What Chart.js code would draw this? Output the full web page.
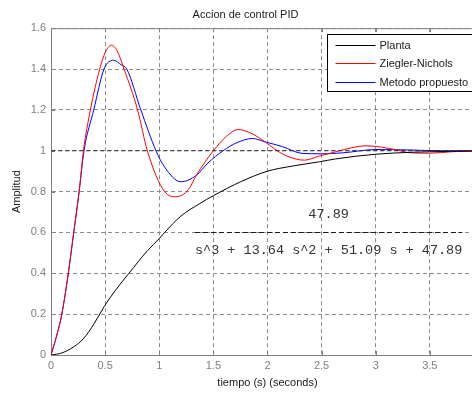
<!DOCTYPE html>
<html><head><meta charset="utf-8">
<script src="https://cdn.jsdelivr.net/npm/chart.js@4/dist/chart.umd.min.js"></script>
<style>
html,body{margin:0;padding:0;overflow:hidden;background:#fff;width:472px;height:394px}
#wrap{position:absolute;left:0;top:0;width:491px;height:394px}
</style>
</head><body><div id="wrap"><canvas id="c"></canvas></div>
<script>
// ---- data ----
const seriesNames = ['Planta', 'Ziegler-Nichols', 'Metodo propuesto'];

const plantaT = [0, 0.1, 0.21, 0.3, 0.4, 0.49, 0.6, 0.72, 0.89, 1.0, 1.05, 1.2, 1.37, 1.5, 1.76, 2.0, 2.23, 2.48, 2.63, 3.0, 3.35, 3.7, 4.0];
const plantaV = [0, 0.01, 0.04, 0.08, 0.155, 0.236, 0.32, 0.40, 0.51, 0.57, 0.60, 0.68, 0.74, 0.78, 0.85, 0.90, 0.925, 0.946, 0.96, 0.983, 0.993, 0.997, 0.999];

const znT = [0, 0.05, 0.1, 0.16, 0.21, 0.26, 0.30, 0.364, 0.45, 0.50, 0.557, 0.61, 0.675, 0.80, 0.89, 1.05, 1.157, 1.27, 1.343, 1.5, 1.62, 1.73, 1.85, 1.98, 2.09, 2.2, 2.34, 2.48, 2.63, 2.78, 2.91, 3.05, 3.2, 3.32, 3.5, 3.7, 4.0];
const znV = [0, 0.09, 0.2, 0.4, 0.6, 0.8, 1.0, 1.2, 1.4, 1.48, 1.517, 1.49, 1.4, 1.2, 1.0, 0.8, 0.775, 0.81, 0.88, 1.0, 1.07, 1.104, 1.085, 1.043, 1.0, 0.97, 0.954, 0.974, 0.995, 1.015, 1.024, 1.018, 1.003, 0.99, 0.988, 0.995, 1.002];

const propT = [0, 0.05, 0.1, 0.16, 0.21, 0.26, 0.305, 0.395, 0.49, 0.58, 0.65, 0.70, 0.83, 0.97, 1.05, 1.20, 1.343, 1.45, 1.59, 1.72, 1.86, 1.98, 2.14, 2.32, 2.5, 2.7, 3.0, 3.3, 3.6, 4.0];
const propV = [0, 0.09, 0.2, 0.4, 0.6, 0.8, 1.0, 1.2, 1.4, 1.443, 1.42, 1.4, 1.2, 1.0, 0.92, 0.848, 0.88, 0.94, 1.0, 1.04, 1.06, 1.043, 1.02, 0.987, 0.985, 0.99, 1.006, 1.004, 1.0, 1.0];

const refT = [0, 4];
const refV = [1, 1];

const xTicks = [0, 0.5, 1, 1.5, 2, 2.5, 3, 3.5, 4];
const yTicks = [0, 0.2, 0.4, 0.6, 0.8, 1, 1.2, 1.4, 1.6];

const tfNum = '47.89';
const tfDen = 's^3 + 13.64 s^2 + 51.09 s + 47.89';
const tfPos = {x: 2.565, yNum: 0.69, yBar: 0.6, yDen: 0.51};

// ---- chart ----
const pts = (t, v) => t.map((x, i) => ({x, y: v[i]}));
const FONT = "'Liberation Sans', Arial, sans-serif";
const colors = ['#000000', '#ff0000', '#0000ff'];
const fmt = v => String(Math.round(v * 10) / 10);

const extras = {
  id: 'extras',
  beforeDatasetsDraw(chart) {
    const {ctx, chartArea: a, scales: {x, y}} = chart;
    ctx.save();
    ctx.strokeStyle = '#808080';
    ctx.lineWidth = 1;
    ctx.beginPath();
    ctx.moveTo(a.left, a.top + 0.5); ctx.lineTo(a.right, a.top + 0.5);
    xTicks.forEach(v => {
      const px = Math.round(x.getPixelForValue(v)) + 0.5;
      ctx.moveTo(px, a.bottom); ctx.lineTo(px, a.bottom - 4);
      ctx.moveTo(px, a.top); ctx.lineTo(px, a.top + 4);
    });
    yTicks.forEach(v => {
      const py = Math.round(y.getPixelForValue(v)) + 0.5;
      ctx.moveTo(a.left, py); ctx.lineTo(a.left + 4, py);
    });
    ctx.stroke();
    ctx.restore();
  },
  afterDatasetsDraw(chart) {
    const {ctx, chartArea: a, scales: {x, y}} = chart;
    ctx.save();
    // transfer function text
    ctx.font = "13.5px 'Liberation Mono', 'Courier New', monospace";
    ctx.fillStyle = '#333';
    ctx.textAlign = 'center';
    ctx.textBaseline = 'middle';
    const cx = x.getPixelForValue(tfPos.x);
    ctx.fillText(tfNum, cx, y.getPixelForValue(tfPos.yNum));
    ctx.fillText(tfDen, cx, y.getPixelForValue(tfPos.yDen));
    const w = ctx.measureText(tfDen).width;
    const by = Math.round(y.getPixelForValue(tfPos.yBar)) + 0.5;
    ctx.strokeStyle = '#1a1a1a';
    ctx.lineWidth = 1;
    ctx.setLineDash([5, 3]);
    ctx.beginPath();
    ctx.moveTo(cx - w / 2, by); ctx.lineTo(cx + w / 2, by);
    ctx.stroke();
    ctx.setLineDash([]);
    // legend
    const lx = 327.5, ly = 34.5, lw = 200, lh = 57;
    ctx.fillStyle = '#fff';
    ctx.fillRect(lx, ly, lw, lh);
    ctx.strokeStyle = '#000';
    ctx.strokeRect(lx, ly, lw, lh);
    ctx.font = '11px ' + FONT;
    ctx.textAlign = 'left';
    ctx.fillStyle = '#1a1a1a';
    seriesNames.forEach((n, i) => {
      const ry = Math.round(ly + 10.5 + i * 18.4) + 0.5;
      ctx.strokeStyle = colors[i];
      ctx.beginPath();
      ctx.moveTo(lx + 8, ry); ctx.lineTo(lx + 48, ry);
      ctx.stroke();
      ctx.fillText(n, lx + 52, ry);
    });
    ctx.restore();
  }
};

const mk = (label, t, v, color) => ({
  label, data: pts(t, v), borderColor: color, backgroundColor: color,
  borderWidth: 1, pointRadius: 0, cubicInterpolationMode: 'monotone', fill: false
});

new Chart(document.getElementById('c'), {
  type: 'line',
  data: {
    datasets: [
      {label: 'ref', data: pts(refT, refV), borderColor: '#333', borderWidth: 1, borderDash: [4, 3], pointRadius: 0, fill: false},
      mk(seriesNames[0], plantaT, plantaV, colors[0]),
      mk(seriesNames[1], znT, znV, colors[1]),
      mk(seriesNames[2], propT, propV, colors[2])
    ]
  },
  options: {
    responsive: true,
    maintainAspectRatio: false,
    animation: false,
    parsing: false,
    layout: {padding: {left: 0, right: 0, top: 0, bottom: 0}},
    plugins: {
      legend: {display: false},
      tooltip: {enabled: false},
      title: {
        display: true, text: 'Accion de control PID', color: '#1a1a1a',
        font: {family: FONT, size: 11, weight: 'normal'},
        padding: {top: 8, bottom: 7}
      }
    },
    scales: {
      x: {
        type: 'linear', min: 0, max: 4,
        afterBuildTicks: s => { s.ticks = xTicks.map(v => ({value: v})); },
        afterFit: s => { s.height = 39; },
        ticks: {color: '#808080', font: {family: FONT, size: 11}, padding: 4, maxRotation: 0, callback: fmt},
        grid: {color: '#8c8c8c', drawTicks: false, lineWidth: 1},
        border: {color: '#808080', dash: [4, 3], width: 1},
        title: {display: true, text: 'tiempo (s) (seconds)', color: '#1a1a1a', font: {family: FONT, size: 11}, padding: {top: 4, bottom: 4}}
      },
      y: {
        type: 'linear', min: 0, max: 1.6,
        afterBuildTicks: s => { s.ticks = yTicks.map(v => ({value: v})); },
        afterFit: s => { s.width = 51; },
        ticks: {color: '#808080', font: {family: FONT, size: 11}, padding: 5, callback: fmt},
        grid: {color: '#8c8c8c', drawTicks: false, lineWidth: 1},
        border: {color: '#808080', dash: [4, 3], width: 1},
        title: {display: true, text: 'Amplitud', color: '#1a1a1a', font: {family: FONT, size: 11}, padding: {top: 10, bottom: 4}}
      }
    }
  },
  plugins: [extras]
});
</script>
</body></html>
